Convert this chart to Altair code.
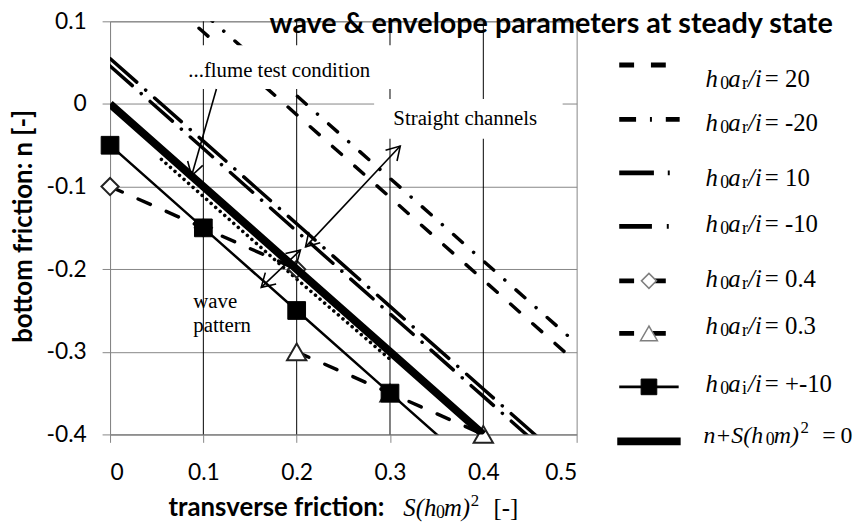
import math
import altair as alt
import pandas as pd

# ---------------- data ----------------
S_GRID = [0.0, 0.1, 0.2, 0.3, 0.4, 0.5]
n_ar_pos20 = [0.187, 0.087, -0.013, -0.113, -0.213, -0.313]
n_ar_neg20 = [0.210, 0.110, 0.010, -0.090, -0.190, -0.290]
n_ar_pos10 = [0.055, -0.045, -0.145, -0.245, -0.345, -0.445]
n_ar_neg10 = [0.046, -0.054, -0.154, -0.254, -0.354, -0.454]

S_flume = [0.055, 0.1, 0.2, 0.3]
n_flume = [-0.067, -0.112, -0.212, -0.309]

S_zero = [0.0, 0.1, 0.2, 0.3, 0.4]
n_zero = [0.0, -0.1, -0.2, -0.3, -0.4]

S_ai = [0.0, 0.1, 0.2, 0.3, 0.4]
n_ai = [-0.05, -0.15, -0.25, -0.35, -0.45]

S_ar04 = [0.0, 0.1, 0.2]
n_ar04 = [-0.10, -0.15, -0.20]

S_ar03 = [0.2, 0.3, 0.4]
n_ar03 = [-0.30, -0.35, -0.40]

x_ticks = [0, 0.1, 0.2, 0.3, 0.4, 0.5]
y_ticks = [0.1, 0, -0.1, -0.2, -0.3, -0.4]
v_grid = [0.1, 0.2, 0.3, 0.4]

# annotation boxes (data units) and arrows
box_S1 = [0.077, 0.283]
box_S2 = [0.307, 0.485]
box_n1 = [0.071, 0.006]
box_n2 = [0.018, -0.042]
arrow_S1 = [0.114, 0.2095, 0.204]
arrow_n1 = [0.018, -0.173, -0.177]
arrow_S2 = [0.0874, 0.311, 0.162]
arrow_n2 = [-0.087, -0.051, -0.222]
arrow_both = [False, True, True]

# ---------------- layout ----------------
W, H = 471, 417
OX, OY = 111, 19          # page position of plot origin
XD, YD = [0, 0.5], [-0.4, 0.1]
GRAY = "#868686"
SANS = "Lato"
SERIF = "Liberation Serif"

xs = alt.Scale(domain=XD, nice=False, zero=False)
ys = alt.Scale(domain=YD, nice=False, zero=False)
x_axis = alt.Axis(values=x_ticks, format=".1~f", grid=False, domainColor=GRAY,
                  tickColor=GRAY, tickSize=8, labelFont=SANS, labelFontSize=23,
                  labelColor="black", labelPadding=20, title=None,
                  labelExpr="replace(datum.label, '\u2212', '-')")
y_axis = alt.Axis(values=y_ticks, format=".1~f", grid=True, gridColor=GRAY,
                  gridWidth=1, domainColor=GRAY, tickColor=GRAY, tickSize=8,
                  labelFont=SANS, labelFontSize=23, labelColor="black",
                  labelPadding=16, title=None,
                  labelExpr="replace(datum.label, '\u2212', '-')")


def X(f="S"):
    return alt.X(f"{f}:Q", scale=xs, axis=x_axis)


def Y(f="n"):
    return alt.Y(f"{f}:Q", scale=ys, axis=y_axis)


def line_layer(S, n, width=3.5, dash=None, cap="round"):
    df = pd.DataFrame({"S": S, "n": n})
    kw = dict(color="black", strokeWidth=width, strokeCap=cap, clip=True)
    if dash:
        kw["strokeDash"] = dash
    return alt.Chart(df).mark_line(**kw).encode(x=X(), y=Y())


def marker_layer(S, n, shape, size, fill, stroke, sw=1.5):
    df = pd.DataFrame({"S": S, "n": n})
    return (alt.Chart(df).transform_filter("datum.n >= -0.4 && datum.n <= 0.1")
            .mark_point(shape=shape, size=size, filled=True, fill=fill,
                        stroke=stroke, strokeWidth=sw, opacity=1)
            .encode(x=X(), y=Y()))


layers = []

# vertical black grid lines
layers.append(alt.Chart(pd.DataFrame({"S": v_grid})).mark_rule(color="black", strokeWidth=1)
              .encode(x=X()))

# series
layers.append(line_layer(S_GRID, n_ar_pos20, dash=[12, 18]))
layers.append(line_layer(S_GRID, n_ar_neg20, dash=[12, 15, 0.1, 15]))
layers.append(line_layer(S_GRID, n_ar_pos10, dash=[36, 12, 0.1, 12]))
layers.append(line_layer(S_GRID, n_ar_neg10, dash=[30, 12, 0.1, 12]))
layers.append(line_layer(S_flume, n_flume, width=3.5, dash=[0.1, 6]))
layers.append(line_layer(S_ar04, n_ar04, dash=[13.5, 17.5]))
layers.append(line_layer(S_ar03, n_ar03, dash=[13.5, 17.5]))
layers.append(marker_layer(S_ar04, n_ar04, "diamond", 300, "white", "#222222", 2))
layers.append(marker_layer(S_ar03, n_ar03, "triangle-up", 380, "white", "#222222", 2))
layers.append(line_layer(S_zero, n_zero, width=8, cap="butt"))
layers.append(line_layer(S_ai, n_ai, width=2.5, cap="butt"))
layers.append(marker_layer(S_ai, n_ai, "square", 320, "black", "black", 1))

# white annotation boxes
box_df = pd.DataFrame({"S": box_S1, "S2": box_S2, "n": box_n1, "n2": box_n2})
layers.append(alt.Chart(box_df).mark_rect(color="white", opacity=1)
              .encode(x=X(), x2="S2:Q", y=Y(), y2="n2:Q"))

# arrows
kx = W / (XD[1] - XD[0])
ky = H / (YD[1] - YD[0])
seg_rows, head_rows = [], []
for i in range(len(arrow_S1)):
    seg_rows += [{"id": i, "k": 0, "S": arrow_S1[i], "n": arrow_n1[i]},
                 {"id": i, "k": 1, "S": arrow_S2[i], "n": arrow_n2[i]}]
    dx = (arrow_S2[i] - arrow_S1[i]) * kx
    dy = -(arrow_n2[i] - arrow_n1[i]) * ky
    ang = math.degrees(math.atan2(dy, dx)) % 360
    head_rows.append({"S": arrow_S2[i], "n": arrow_n2[i], "a": ang})
    if arrow_both[i]:
        head_rows.append({"S": arrow_S1[i], "n": arrow_n1[i], "a": (ang + 180) % 360})
layers.append(alt.Chart(pd.DataFrame(seg_rows)).mark_line(color="black", strokeWidth=1.6)
              .encode(x=X(), y=Y(), detail="id:N", order="k:Q"))
layers.append(alt.Chart(pd.DataFrame(head_rows))
              .mark_point(shape="M -1 -0.6 L 0 0 L -1 0.6", size=700, filled=False,
                          stroke="black", strokeWidth=1.6, opacity=1)
              .encode(x=X(), y=Y(), angle=alt.Angle("a:Q", scale=None)))

ONE = alt.Data(values=[{}])


def txt(t, px, py, font=SERIF, size=21, weight="normal", style="normal",
        align="left", angle=0, baseline="alphabetic"):
    return (alt.Chart(ONE).mark_text(text=t, font=font, fontSize=size, fontWeight=weight,
                                     fontStyle=style, align=align, angle=angle,
                                     baseline=baseline, color="black")
            .encode(x=alt.value(px - OX), y=alt.value(py - OY)))


def lrule(x1, x2, py, dash=None, width=5):
    kw = dict(color="black", strokeWidth=width, strokeCap="butt")
    if dash:
        kw["strokeDash"] = dash
    return (alt.Chart(ONE).mark_rule(**kw)
            .encode(x=alt.value(x1 - OX), x2=alt.value(x2 - OX), y=alt.value(py - OY)))


def lpoint(px, py, shape, size, fill, stroke, sw=1.5):
    return (alt.Chart(ONE).mark_point(shape=shape, size=size, filled=True, fill=fill,
                                      stroke=stroke, strokeWidth=sw, opacity=1)
            .encode(x=alt.value(px - OX), y=alt.value(py - OY)))


# annotation texts
layers.append(txt("...flume test condition", 190, 75))
layers.append(txt("Straight channels", 397, 124))
layers.append(txt("wave", 195, 308))
layers.append(txt("pattern", 195, 333))

# titles
layers.append(txt("wave & envelope parameters at steady state", 272, 31, font=SANS,
                  size=29, weight="bold"))
layers.append(txt("bottom friction: n [-]", 32, 226, font=SANS, size=26, weight="bold",
                  align="center", angle=270))
layers.append(txt("transverse friction:", 170, 518, font=SANS, size=26, weight="bold"))
# S(h0m)^2 [-]
XB = 518
layers.append(txt("S(h", 407, XB, size=25, style="italic"))
layers.append(txt("0", 440, XB + 2, size=18))
layers.append(txt("m)", 448, XB, size=25, style="italic"))
layers.append(txt("2", 475, XB - 10, size=17))
layers.append(txt("[-]", 498, XB, size=25))

# legend
leg_y = [63, 118, 172, 226, 281, 334, 388, 443]
leg_base = [85, 130, 185, 232, 287, 335, 393, 445]
leg_sub = ["r", "r", "r", "r", "r", "r", "i"]
leg_val = ["= 20", "= -20", "= 10", "= -10", "= 0.4", "= 0.3", "= +-10"]

layers.append(lrule(625, 672, leg_y[0], dash=[15, 17]))
layers.append(lrule(625, 686, leg_y[1], dash=[17, 14, 2, 14]))
layers.append(lrule(625, 677, leg_y[2], dash=[35, 14, 2, 14]))
layers.append(lrule(625, 677, leg_y[3], dash=[33, 15, 2, 14]))
layers.append(lrule(625, 672, leg_y[4], dash=[15, 17]))
layers.append(lpoint(655, leg_y[4], "diamond", 230, "white", "#7f7f7f", 1.5))
layers.append(lrule(625, 672, leg_y[5], dash=[15, 17]))
layers.append(lpoint(655, leg_y[5], "triangle-up", 290, "white", "#7f7f7f", 1.5))
layers.append(lrule(625, 685, leg_y[6], width=3))
layers.append(lpoint(655, leg_y[6], "square", 250, "black", "black", 1))
layers.append(lrule(623, 687, leg_y[7], width=8))
for i in range(7):
    b = leg_base[i]
    layers.append(txt("h", 712, b, size=25, style="italic"))
    layers.append(txt("0", 727, b + 2, size=18))
    layers.append(txt("a", 735, b, size=25, style="italic"))
    layers.append(txt(leg_sub[i], 749, b + 2, size=18))
    layers.append(txt("/i", 755, b, size=25, style="italic"))
    layers.append(txt(leg_val[i], 772, b, size=25))
b = leg_base[7]
layers.append(txt("n+S(h", 710, b, size=24, style="italic"))
layers.append(txt("0", 773, b + 2, size=18))
layers.append(txt("m)", 781, b, size=24, style="italic"))
layers.append(txt("2", 808, b - 10, size=17))
layers.append(txt("=\u20090", 830, b, size=24))

chart = alt.layer(*layers).properties(
    width=W, height=H,
    autosize=alt.AutoSizeParams(type="none"),
    padding={"left": OX - 8, "top": OY - 8, "right": 856 - (OX - 8) - W, "bottom": 90},
).configure_view(stroke=GRAY, strokeWidth=1)

chart.save("out.html", embed_options={"renderer": "svg", "actions": False})
